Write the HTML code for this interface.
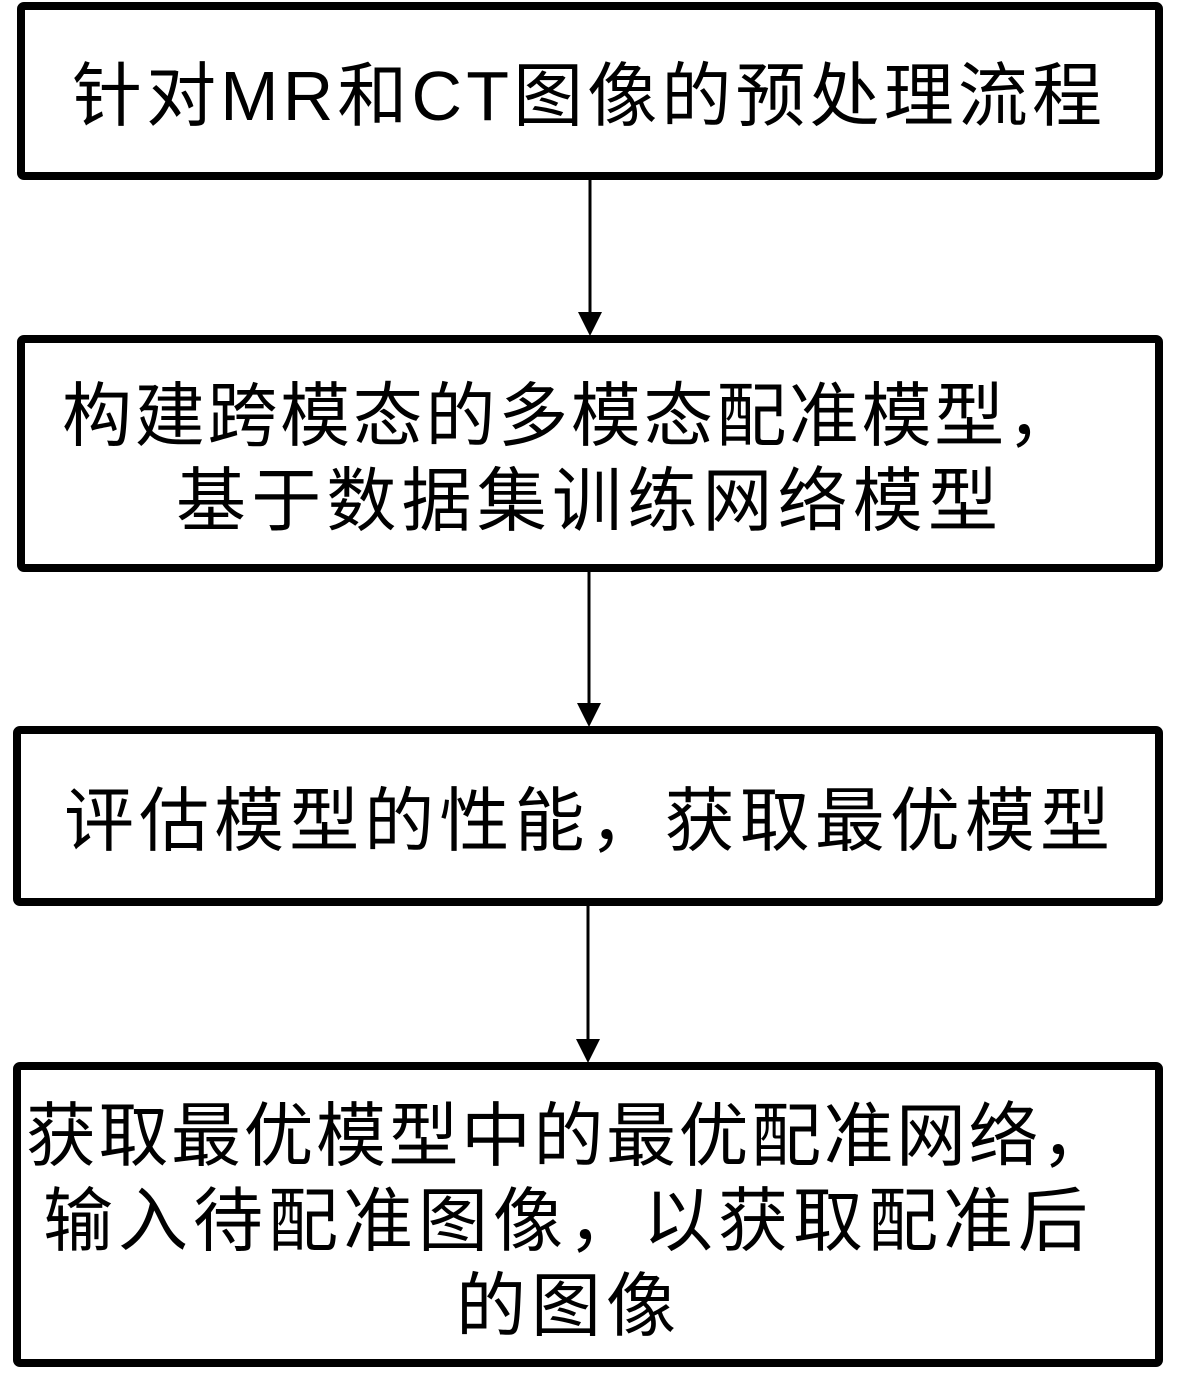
<!DOCTYPE html>
<html><head><meta charset="utf-8"><style>
html,body{margin:0;padding:0;background:#fff;}
svg{display:block;}
text{font-family:"Liberation Sans","Noto Sans CJK SC",sans-serif;font-size:70px;fill:#000;}
</style></head><body>
<svg width="1178" height="1379" viewBox="0 0 1178 1379" xmlns="http://www.w3.org/2000/svg">
<g fill="none" stroke="#000" stroke-width="8">
<rect x="21" y="6" width="1138" height="170" rx="3"/>
<rect x="21" y="339" width="1138" height="229" rx="3"/>
<rect x="17" y="730" width="1142" height="172" rx="3"/>
<rect x="17" y="1066" width="1142" height="297" rx="3"/>
</g>
<g stroke="#000" stroke-width="3">
<line x1="590" y1="180" x2="590" y2="315"/>
<line x1="589" y1="572" x2="589" y2="706"/>
<line x1="588" y1="906" x2="588" y2="1042"/>
</g>
<g fill="#000">
<polygon points="578,312 602,312 590,336"/>
<polygon points="577,703 601,703 589,727"/>
<polygon points="576,1039 600,1039 588,1063"/>
</g>
<text x="72" y="120" textLength="1030" lengthAdjust="spacing">针对MR和CT图像的预处理流程</text>
<text x="62" y="440" textLength="1015" lengthAdjust="spacing">构建跨模态的多模态配准模型，</text>
<text x="176" y="525" textLength="822" lengthAdjust="spacing">基于数据集训练网络模型</text>
<text x="64" y="845" textLength="1046" lengthAdjust="spacing">评估模型的性能，获取最优模型</text>
<text x="26" y="1160" textLength="1085" lengthAdjust="spacing">获取最优模型中的最优配准网络，</text>
<text x="43" y="1245" textLength="1045" lengthAdjust="spacing">输入待配准图像，以获取配准后</text>
<text x="456" y="1330" textLength="220" lengthAdjust="spacing">的图像</text>
</svg>
</body></html>
